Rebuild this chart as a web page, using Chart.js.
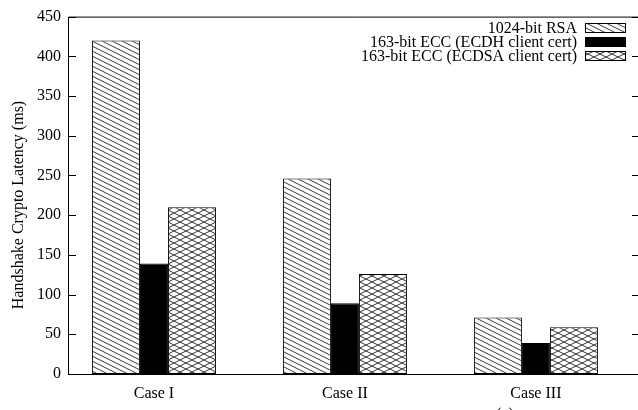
<!DOCTYPE html>
<html>
<head>
<meta charset="utf-8">
<script src="https://cdn.jsdelivr.net/npm/chart.js@4/dist/chart.umd.min.js"></script>
<style>
  html, body { margin: 0; padding: 0; background: #fff; overflow: hidden; width: 638px; height: 410px; }
  canvas { display: block; }
</style>
</head>
<body>
<canvas id="c" width="645" height="410"></canvas>
<script>
// Handshake crypto latency per case (ms)
const categories = ['Case I', 'Case II', 'Case III'];
const seriesNames = ['1024-bit RSA', '163-bit ECC (ECDH client cert)', '163-bit ECC (ECDSA client cert)'];
const rsaValues = [420, 246, 71];
const ecdhValues = [139, 89, 39];
const ecdsaValues = [210, 126, 59];
const yTickValues = [0, 50, 100, 150, 200, 250, 300, 350, 400, 450];
const yTitle = 'Handshake Crypto Latency (ms)';
const caption = '(a)';

const FONT = '"Liberation Serif", "Times New Roman", serif';

// Fill patterns in the style of gnuplot hatches:
// lines of slope 1/2, `gap` pixels apart vertically, on a seamless tile.
function makePattern(kind, gap) {
  const h = gap * 2, w = h * 2;
  const t = document.createElement('canvas');
  t.width = w; t.height = h;
  const g = t.getContext('2d');
  g.fillStyle = '#fff';
  g.fillRect(0, 0, w, h);
  g.strokeStyle = '#222';
  g.lineWidth = 0.9;
  g.beginPath();
  for (let b = -3 * h; b <= 3 * h; b += gap) {
    // descending lines: y = x/2 + b
    g.moveTo(-w, b - w / 2);
    g.lineTo(2 * w, b + w);
    if (kind === 'cross') {
      // ascending lines: y = -x/2 + b
      g.moveTo(-w, b + w / 2);
      g.lineTo(2 * w, b - w);
    }
  }
  g.stroke();
  return g.createPattern(t, 'repeat');
}

const ctx = document.getElementById('c').getContext('2d');
const hatchDown = makePattern('down', 5);
const hatchCross = makePattern('cross', 6);

const toPoints = vals => vals.map((v, i) => ({ x: i, y: v }));

// Frame, inward tick marks, legend, axis title and caption
const decorations = {
  id: 'decorations',
  afterDraw(chart) {
    const c = chart.ctx;
    const a = chart.chartArea;
    const ys = chart.scales.y;
    c.save();
    c.strokeStyle = '#000';
    c.lineWidth = 1;
    c.beginPath();
    c.rect(a.left + 0.5, a.top + 0.5, a.right - a.left, a.bottom - a.top);
    yTickValues.forEach(v => {
      const py = Math.round(ys.getPixelForValue(v)) + 0.5;
      c.moveTo(a.left, py); c.lineTo(a.left + 8, py);
      c.moveTo(a.right, py); c.lineTo(a.right - 8, py);
    });
    c.stroke();

    // legend
    c.font = '16px ' + FONT;
    c.textAlign = 'right';
    c.textBaseline = 'middle';
    const rowY = [27.5, 41.5, 55.5];
    chart.data.datasets.forEach((ds, i) => {
      const y = rowY[i];
      c.fillStyle = '#000';
      c.fillText(ds.label, 577, y + 1);
      c.fillStyle = ds.backgroundColor;
      c.fillRect(585, y - 4.5, 40, 9);
      c.strokeRect(585.5, y - 4, 40, 9);
    });

    // y axis title
    c.save();
    c.translate(19, 205);
    c.rotate(-Math.PI / 2);
    c.textAlign = 'center';
    c.textBaseline = 'middle';
    c.fillStyle = '#000';
    c.fillText(yTitle, 0, 0);
    c.restore();

    // sub-figure caption (falls mostly below the canvas)
    c.textAlign = 'center';
    c.textBaseline = 'top';
    c.fillStyle = '#000';
    c.fillText(caption, 505, 407);
    c.restore();
  }
};

new Chart(ctx, {
  type: 'bar',
  data: {
    datasets: [
      { label: seriesNames[0], data: toPoints(rsaValues), backgroundColor: hatchDown,
        borderColor: '#000', borderWidth: 1, borderSkipped: false,
        categoryPercentage: 0.597, barPercentage: 1.263 },
      { label: seriesNames[1], data: toPoints(ecdhValues), backgroundColor: '#000',
        borderColor: '#000', borderWidth: 1, borderSkipped: false,
        categoryPercentage: 0.597, barPercentage: 0.737 },
      { label: seriesNames[2], data: toPoints(ecdsaValues), backgroundColor: hatchCross,
        borderColor: '#000', borderWidth: 1, borderSkipped: false,
        categoryPercentage: 0.597, barPercentage: 1.263 }
    ]
  },
  options: {
    responsive: false,
    devicePixelRatio: 1,
    animation: false,
    layout: { padding: { left: 0, top: 12, right: 5, bottom: 0 } },
    plugins: { legend: { display: false }, tooltip: { enabled: false } },
    scales: {
      x: {
        type: 'linear',
        offset: false,
        min: -0.45,
        max: 2.545,
        grid: { display: false, drawTicks: false, offset: false },
        border: { display: false },
        afterBuildTicks: s => { s.ticks = categories.map((_, i) => ({ value: i })); },
        afterFit: s => { s.height = 36; },
        ticks: {
          padding: 10,
          maxRotation: 0,
          autoSkip: false,
          color: '#000',
          font: { family: FONT, size: 16 },
          callback: v => categories[v]
        }
      },
      y: {
        min: 0,
        max: 450,
        grid: { display: false, drawTicks: false },
        border: { display: false },
        afterBuildTicks: s => { s.ticks = yTickValues.map(v => ({ value: v })); },
        afterFit: s => { s.width = 68; },
        ticks: {
          padding: 7,
          color: '#000',
          font: { family: FONT, size: 16 }
        }
      }
    }
  },
  plugins: [decorations]
});
</script>
</body>
</html>
